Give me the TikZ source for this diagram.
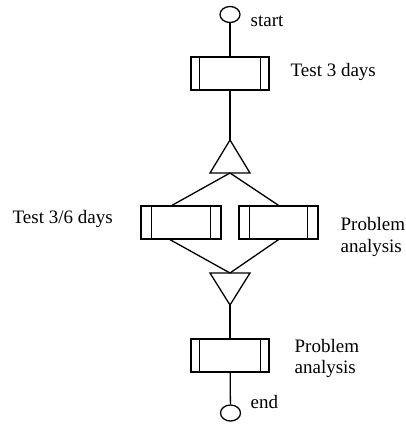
\documentclass[tikz,border=0pt]{standalone}
\usepackage{fontspec}
\setmainfont{Liberation Serif}
\usetikzlibrary{shapes.geometric,calc}
\begin{document}
\begin{tikzpicture}[x=1pt,y=-1pt,line width=1.3pt,
  lbl/.style={inner sep=0pt,font=\fontsize{19}{21.5}\selectfont,align=left},
  term/.style={draw,ellipse,minimum width=20pt,minimum height=16pt,inner sep=0pt},
  act/.style={draw,rectangle,minimum width=78pt,minimum height=33pt,inner sep=0pt}]
\useasboundingbox (0,0) rectangle (406,426);
% terminals
\node[term] (start) at (230,14.5) {};
\node[term] (end) at (230.5,413) {};
% activity boxes
\node[act] (b1) at (230,73.5) {};
\node[act,minimum width=80pt] (b2) at (181,222.5) {};
\node[act,minimum width=79pt] (b3) at (278.5,222.5) {};
\node[act] (b4) at (230,355.5) {};
\foreach \b/\d in {b1/9,b2/11,b3/11,b4/9}{
  \draw ([xshift=\d pt]\b.north west) -- ([xshift=\d pt]\b.south west);
  \draw ([xshift=-\d pt]\b.north east) -- ([xshift=-\d pt]\b.south east);
}
% triangles
\coordinate (t1a) at (230,140);
\coordinate (t1b) at (230,173);
\draw (t1a) -- (210,173) -- (250,173) -- cycle;
\coordinate (t2a) at (230,273);
\coordinate (t2b) at (230,305);
\draw (t2b) -- (210,273) -- (250,273) -- cycle;
% connectors
\draw (start) -- (b1);
\draw (b1) -- (t1a);
\draw (t1b) -- ($(b2.north)+(-9,0)$);
\draw (t1b) -- (b3.north);
\draw ($(b2.south)+(-11,0)$) -- (t2a);
\draw (b3.south) -- (t2a);
\draw (t2b) -- (b4);
\draw (b4) -- (end);
% labels
\node[lbl,anchor=base west] (l0) at (250,26.5) {start};
\node[lbl,anchor=base west] (l1) at (290,76.5) {Test 3 days};
\node[lbl,anchor=base west] (l2) at (12,223.5) {Test 3/6 days};
\node[lbl,anchor=north west] (l3) at (340,217) {Problem\\analysis};
\node[lbl,anchor=north west] (l4) at (294,338.5) {Problem\\analysis};
\node[lbl,anchor=base west] (l5) at (250,408) {end};
\end{tikzpicture}
\end{document}
